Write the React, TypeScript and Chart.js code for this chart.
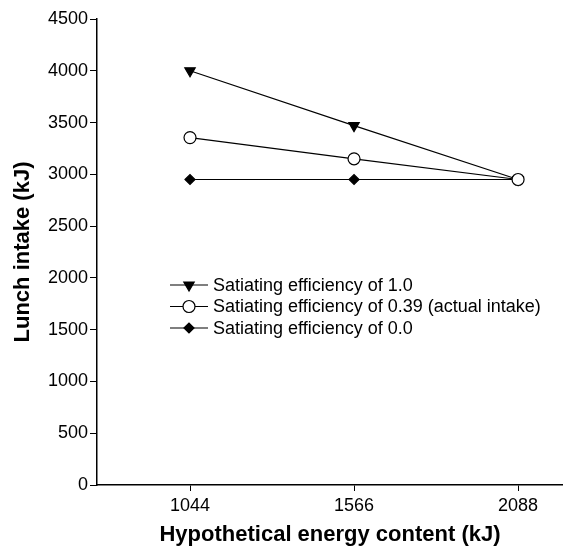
import React, { useEffect, useRef } from "react";
import { Chart, registerables } from "chart.js";
import { drawPoint } from "chart.js/helpers";

Chart.register(...registerables);

const energyContent = [1044, 1566, 2088];
const efficiency10 = [4000, 3470, 2950];
const efficiency039 = [3355, 3150, 2950];
const efficiency00 = [2950, 2950, 2950];
const seriesLabels = [
  "Satiating efficiency of 1.0",
  "Satiating efficiency of 0.39 (actual intake)",
  "Satiating efficiency of 0.0",
];
const yTicks = [0, 500, 1000, 1500, 2000, 2500, 3000, 3500, 4000, 4500];

const FONT = "'Liberation Sans', Arial, Helvetica, sans-serif";

export default function App() {
  const ref = useRef<HTMLCanvasElement | null>(null);

  useEffect(() => {
    document.body.style.margin = "0";
    const canvas = ref.current;
    if (!canvas) return;

    const legendPlugin = {
      id: "innerLegend",
      afterDraw(chart: any) {
        const ctx = chart.ctx;
        const startY = 285;
        const gap = 21.5;
        ctx.save();
        chart.data.datasets.forEach((ds: any, i: number) => {
          const y = startY + i * gap;
          ctx.strokeStyle = "#000";
          ctx.lineWidth = 1.2;
          ctx.beginPath();
          ctx.moveTo(170, y);
          ctx.lineTo(208, y);
          ctx.stroke();
          ctx.fillStyle = ds.pointBackgroundColor;
          ctx.strokeStyle = "#000";
          ctx.lineWidth = 1.2;
          drawPoint(
            ctx,
            {
              pointStyle: ds.pointStyle,
              rotation: ds.pointRotation || 0,
              radius: ds.pointRadius,
              borderWidth: 1.2,
            } as any,
            189,
            y
          );
          ctx.fillStyle = "#000";
          ctx.font = `18px ${FONT}`;
          ctx.textBaseline = "middle";
          ctx.textAlign = "left";
          ctx.fillText(ds.label, 213, y + 1);
        });
        ctx.restore();
      },
    };

    const mk = (
      label: string,
      data: number[],
      style: string,
      fill: string,
      radius: number,
      order: number,
      rot = 0
    ) => ({
      label,
      data: energyContent.map((x, i) => ({ x, y: data[i] })),
      borderColor: "#000",
      borderWidth: 1.2,
      pointStyle: style,
      pointRotation: rot,
      pointRadius: radius,
      pointBackgroundColor: fill,
      pointBorderColor: "#000",
      pointBorderWidth: 1.2,
      fill: false,
      tension: 0,
      order,
    });

    const chart = new Chart(canvas, {
      type: "line",
      data: {
        datasets: [
          mk(seriesLabels[0], efficiency10, "triangle", "#000", 6, 1, 180),
          mk(seriesLabels[1], efficiency039, "circle", "#fff", 6, 0),
          mk(seriesLabels[2], efficiency00, "rectRot", "#000", 5, 2),
        ] as any,
      },
      options: {
        animation: false,
        responsive: false,
        maintainAspectRatio: false,
        layout: { autoPadding: false, padding: { top: 19, right: 0, left: 0, bottom: 0 } },
        plugins: { legend: { display: false }, tooltip: { enabled: false } },
        scales: {
          x: {
            type: "linear",
            min: 748,
            max: 2231,
            afterBuildTicks: (scale: any) => {
              scale.ticks = energyContent.map((v) => ({ value: v }));
            },
            afterFit: (scale: any) => {
              scale.height = 68;
              scale.paddingLeft = 0;
              scale.paddingRight = 0;
            },
            grid: {
              display: true,
              drawOnChartArea: false,
              drawTicks: true,
              tickLength: 6,
              color: "#000",
              lineWidth: 1,
            },
            border: { display: true, color: "#000", width: 1.5 },
            ticks: {
              color: "#000",
              font: { family: FONT, size: 18 },
              padding: 4,
              maxRotation: 0,
              autoSkip: false,
              callback: (v: any) => String(v),
            },
            title: {
              display: true,
              text: "Hypothetical energy content (kJ)",
              color: "#000",
              font: { family: FONT, size: 22, weight: "bold" },
              padding: { top: 0, bottom: 5 },
            },
          },
          y: {
            type: "linear",
            min: 0,
            max: 4500,
            afterBuildTicks: (scale: any) => {
              scale.ticks = yTicks.map((v) => ({ value: v }));
            },
            afterFit: (scale: any) => {
              scale.width = 97;
              scale.paddingTop = 0;
              scale.paddingBottom = 0;
            },
            grid: {
              display: true,
              drawOnChartArea: false,
              drawTicks: true,
              tickLength: 7,
              color: "#000",
              lineWidth: 1,
            },
            border: { display: true, color: "#000", width: 1.5 },
            ticks: {
              color: "#000",
              font: { family: FONT, size: 18 },
              padding: 2,
              callback: (v: any) => String(v),
            },
            title: {
              display: true,
              text: "Lunch intake (kJ)",
              color: "#000",
              font: { family: FONT, size: 22, weight: "bold" },
              padding: { top: 10, bottom: 0 },
            },
          },
        },
      } as any,
      plugins: [legendPlugin],
    });

    return () => chart.destroy();
  }, []);

  return (
    <div style={{ width: 563, height: 553 }}>
      <canvas ref={ref} width={563} height={553} />
    </div>
  );
}
